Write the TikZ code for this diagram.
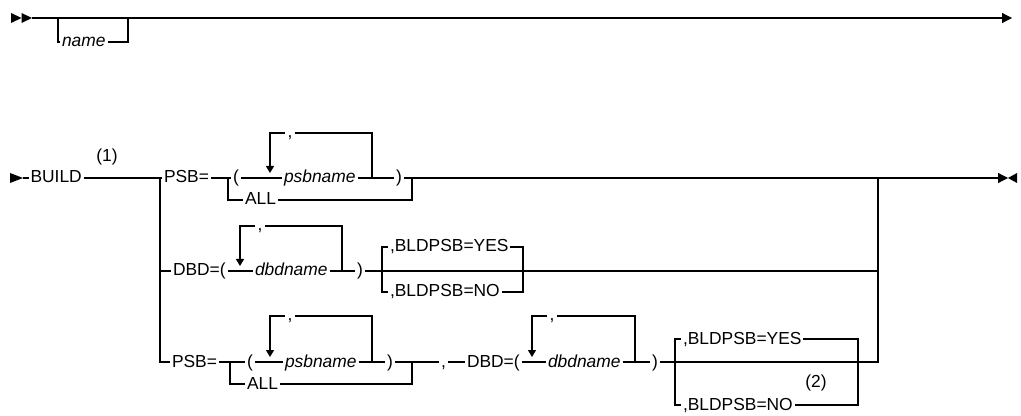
\documentclass[tikz,border=0pt]{standalone}
\usepackage{fontspec}
\setmainfont{Liberation Sans}
\usetikzlibrary{arrows.meta}

\begin{document}
\begin{tikzpicture}[
  x=0.5pt, y=-0.5pt, font=\fontsize{8.7}{10}\selectfont,
  rail/.style={line width=0.6pt},
  kw/.style={anchor=west, inner xsep=0.8pt, inner ysep=0pt, text height=6.5pt, text depth=1.5pt},
  var/.style={kw, font=\fontsize{8.7}{10}\selectfont\itshape},
  sep/.style={inner xsep=1.2pt, inner ysep=0pt, text height=4.8pt, text depth=0.4pt},
  note/.style={inner sep=0pt},
  down/.style={rail, -{Triangle[length=3.5pt, width=4pt]}},
  endtip/.style={rail, -{Triangle[length=5pt, width=5pt]}}
]
  \useasboundingbox (0,0) rectangle (1021,416);

  % Top line
  \fill (11,13) -- (21.5,18) -- (11,23) -- cycle;
  \fill (21.5,13) -- (32,18) -- (21.5,23) -- cycle;
  \coordinate (t0) at (32,18);
  \coordinate (t1) at (58,18);
  \coordinate (t2) at (128,18);
  \coordinate (t3) at (1012,18);
  \node[var] (name) at (60,42) {name};
  \draw[endtip] (t0) -- (t3);
  \draw[rail] (t1) |- (name) -| (t2);

  % BUILD line
  \fill (10,173) -- (23,178) -- (10,183) -- cycle;
  \coordinate (r0) at (23,178);
  \node[kw] (build) at (28.5,178) {BUILD};
  \node[note] (n1) at (107,157) {(1)};
  \coordinate (v1) at (160,178);
  \node[kw] (psbA) at (162,178) {PSB=};
  \coordinate (bA1) at (228,178);
  \node[kw] (lpA) at (231,178) {(};
  \coordinate (lA0) at (270,133);
  \coordinate (lA1) at (270,173);
  \node[sep] (cA) at (290,133) {,};
  \coordinate (lA2) at (372,133);
  \coordinate (lA3) at (372,178);
  \node[var] (psbnA) at (282,178) {psbname};
  \node[kw] (rpA) at (394,178) {)};
  \coordinate (bA2) at (412,178);
  \node[kw] (allA) at (243,200) {ALL};
  \coordinate (e1) at (878,178);
  \coordinate (r9) at (1008,178);

  \draw[rail] (r0) -- (build) -- (psbA) -- (lpA) -- (psbnA) -- (rpA);
  \draw[endtip] (rpA) -- (r9);
  \fill (1017,173) -- (1008,178) -- (1017,183) -- cycle;
  \draw[rail] (bA1) |- (allA) -| (bA2);
  \draw[rail] (lA3) -- (lA2) -- (cA);
  \draw[down] (cA) -- (lA0) -- (lA1);

  % DBD line
  \coordinate (v2) at (160,271);
  \node[kw] (dbdB) at (171,271) {DBD=(};
  \coordinate (lB0) at (240,226);
  \coordinate (lB1) at (240,266);
  \node[sep] (cB) at (260,226) {,};
  \coordinate (lB2) at (342,226);
  \coordinate (lB3) at (342,271);
  \node[var] (dbdnB) at (253,271) {dbdname};
  \node[kw] (rpB) at (355,271) {)};
  \coordinate (bB1) at (382,271);
  \node[kw] (yesB) at (388,247) {,BLDPSB=YES};
  \node[kw] (noB) at (388,292) {,BLDPSB=NO};
  \coordinate (bB2) at (523,271);
  \coordinate (e2) at (878,271);

  \draw[rail] (v2) -- (dbdB) -- (dbdnB) -- (rpB) -- (e2);
  \draw[rail] (lB3) -- (lB2) -- (cB);
  \draw[down] (cB) -- (lB0) -- (lB1);
  \draw[rail] (bB1) |- (yesB) -| (bB2) |- (noB) -| (bB1);

  % PSB and DBD line
  \coordinate (v3) at (160,362);
  \node[kw] (psbC) at (170,362) {PSB=};
  \coordinate (bC1) at (230,362);
  \node[kw] (lpC) at (245,362) {(};
  \coordinate (lC0) at (270,316);
  \coordinate (lC1) at (270,357);
  \node[sep] (cC) at (290,316) {,};
  \coordinate (lC2) at (372,316);
  \coordinate (lC3) at (372,362);
  \node[var] (psbnC) at (283,362) {psbname};
  \node[kw] (rpC) at (385,362) {)};
  \coordinate (bC2) at (412,362);
  \node[kw] (allC) at (245,384) {ALL};
  \node[kw] (comC) at (439,362) {,};
  \node[kw] (dbdC) at (465,362) {DBD=(};
  \coordinate (lD0) at (532,316);
  \coordinate (lD1) at (532,357);
  \node[sep] (cD) at (552,316) {,};
  \coordinate (lD2) at (635,316);
  \coordinate (lD3) at (635,362);
  \node[var] (dbdnD) at (546,362) {dbdname};
  \node[kw] (rpD) at (650,362) {)};
  \coordinate (bD1) at (675,362);
  \node[kw] (yesD) at (681,339) {,BLDPSB=YES};
  \node[kw] (noD) at (681,405) {,BLDPSB=NO};
  \node[note] (n2) at (816,383) {(2)};
  \coordinate (bD2) at (858,362);
  \coordinate (e3) at (878,362);

  \draw[rail] (v1) -- (v2) |- (psbC) -- (lpC) -- (psbnC) -- (rpC) -- (comC) -- (dbdC) -- (dbdnD) -- (rpD) -- (e3) -- (e1);
  \draw[rail] (bC1) |- (allC) -| (bC2);
  \draw[rail] (lC3) -- (lC2) -- (cC);
  \draw[down] (cC) -- (lC0) -- (lC1);
  \draw[rail] (lD3) -- (lD2) -- (cD);
  \draw[down] (cD) -- (lD0) -- (lD1);
  \draw[rail] (bD1) |- (yesD) -| (bD2) |- (noD) -| (bD1);
\end{tikzpicture}
\end{document}
